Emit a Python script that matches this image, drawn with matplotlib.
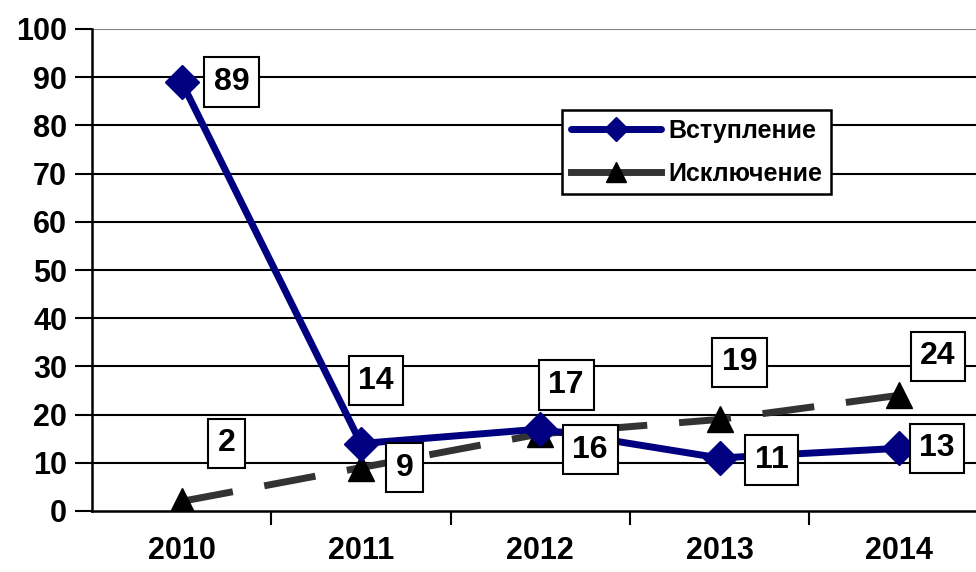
import matplotlib
matplotlib.use("Agg")
import matplotlib.pyplot as plt
from matplotlib.ticker import FixedLocator
from matplotlib.lines import Line2D

years = ["2010", "2011", "2012", "2013", "2014"]
vstup = [89, 14, 17, 11, 13]
iskl = [2, 9, 16, 19, 24]
yticks = [0, 10, 20, 30, 40, 50, 60, 70, 80, 90, 100]

# label offsets in pixels (style only)
off_v = [(50, 0), (15, 63), (26, 44), (52, -2), (38, 0)]
off_i = [(45, 58), (44, 0), (50, -16), (20, 57), (39, 39)]

plt.rcParams['font.family'] = ['Liberation Sans', 'DejaVu Sans']
plt.rcParams['font.weight'] = 'bold'

fig = plt.figure(figsize=(9.76, 5.72), dpi=100)
ax = fig.add_axes([92/976, 1 - 511/572, (988.5 - 92)/976, (511 - 29)/572])
x = list(range(len(years)))

ax.set_xlim(-0.5, 4.5)
ax.set_ylim(0, 100)
ax.set_yticks(yticks)
for yv in yticks[1:]:
    ax.axhline(yv, color='#808080' if yv == 100 else 'black', lw=1.5, zorder=1)

l1, = ax.plot(x, vstup, color='#000080', lw=5, marker='D', markersize=17,
              markeredgecolor='#000080', zorder=3, label='Вступление', solid_capstyle='round')
l2, = ax.plot(x, iskl, color='#333333', lw=5, dashes=(7.5, 4.6), marker='^', markersize=19,
              markerfacecolor='black', markeredgecolor='black', zorder=2, label='Исключение')

bbox = dict(boxstyle='square,pad=0.3', fc='white', ec='black', lw=1.5)
for xi, v, (dx, dy) in zip(x, vstup, off_v):
    ax.annotate(str(v), (xi, v), xytext=(dx, dy), textcoords='offset pixels',
                ha='center', va='center', fontsize=23, fontweight='bold', bbox=bbox, zorder=5)
for xi, v, (dx, dy) in zip(x, iskl, off_i):
    ax.annotate(str(v), (xi, v), xytext=(dx, dy), textcoords='offset pixels',
                ha='center', va='center', fontsize=23, fontweight='bold', bbox=bbox, zorder=5)

ax.set_xticks(x)
ax.set_xticklabels(years, fontsize=22, fontweight='bold')
ax.tick_params(axis='x', which='major', length=0, pad=18)
ax.xaxis.set_minor_locator(FixedLocator([0.5, 1.5, 2.5, 3.5]))
ax.tick_params(axis='x', which='minor', length=10, width=1.5, direction='out')
ax.tick_params(axis='y', length=12, width=1.5, direction='out', labelsize=22, pad=6)
for lab in ax.get_yticklabels():
    lab.set_fontweight('bold')

for s in ['top', 'right']:
    ax.spines[s].set_visible(False)
ax.spines['left'].set_linewidth(1.8)
ax.spines['bottom'].set_linewidth(1.8)

h1 = Line2D([], [], color='#000080', lw=5, marker='D', markersize=12, solid_capstyle='round')
h2 = Line2D([], [], color='#333333', lw=5, marker='^', markersize=14,
            markerfacecolor='black', markeredgecolor='black')
leg = ax.legend(handles=[h1, h2], labels=['Вступление', 'Исключение'], loc='upper left',
                bbox_to_anchor=((562 - 92) / 896.5, 1 - (110 - 29) / 482), borderaxespad=0,
                fontsize=18, frameon=True, fancybox=False, edgecolor='black',
                framealpha=1, handlelength=3.6, borderpad=0.35, labelspacing=0.75, handletextpad=0.3)
leg.get_frame().set_linewidth(1.8)
for t in leg.get_texts():
    t.set_fontweight('bold')

fig.savefig('out.png', dpi=100)
